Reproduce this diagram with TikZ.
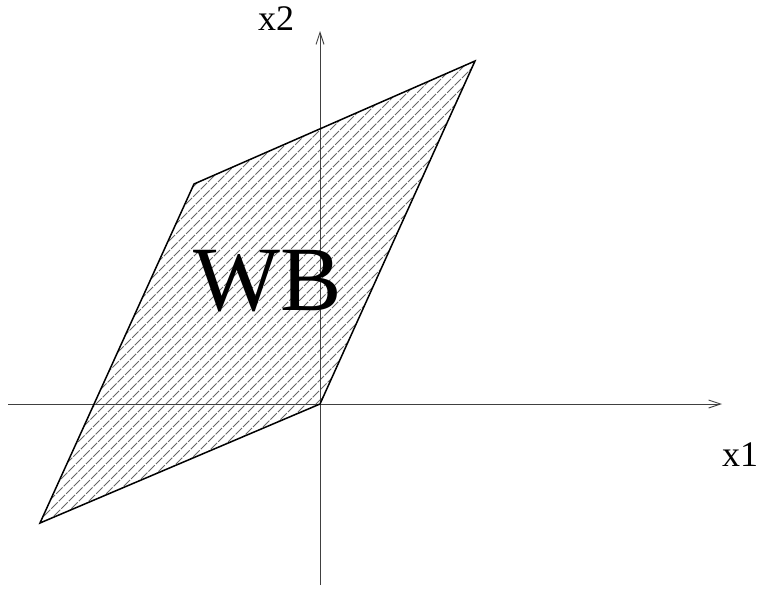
\documentclass[tikz,border=0pt]{standalone}
\usepackage{fontspec}
\setmainfont{Liberation Serif}
\usetikzlibrary{arrows.meta}
\tikzset{
  axis/.style={line width=0.9pt, black!75, -{Straight Barb[length=12pt,width=8pt,line width=0.9pt]}},
  region/.style={line width=1.5pt, black, line join=miter},
  hatchline/.style={line width=0.9pt, black!60, dash pattern=on 9pt off 1.5pt},
  lbl/.style={inner sep=0pt, anchor=base, font=\fontsize{36}{40}\selectfont}
}
\begin{document}
\begin{tikzpicture}[x=1pt,y=-1pt]
\useasboundingbox (0,0) rectangle (759,589);
\coordinate (A) at (40,523);
\coordinate (B) at (320,404);
\coordinate (C) at (475,61);
\coordinate (D) at (194,184);
\coordinate (xs) at (8,404);
\coordinate (xe) at (722,404);
\coordinate (ys) at (320,585);
\coordinate (ye) at (320,31);
\begin{scope}
  \clip (A) -- (B) -- (C) -- (D) -- cycle;
  \foreach \c in {370,380,...,730} {
    \draw[hatchline] (\c-620,620) -- (\c,0);
  }
\end{scope}
\draw[axis] (xs) -- (xe);
\draw[axis] (ys) -- (ye);
\draw[region] (A) -- (B) -- (C) -- (D) -- cycle;
\node[inner sep=0pt, anchor=base, font=\fontsize{92}{96}\selectfont] (wb) at (268,310) {WB};
\node[lbl] (lx2) at (276,30) {x2};
\node[lbl] (lx1) at (740,466) {x1};
\end{tikzpicture}
\end{document}
